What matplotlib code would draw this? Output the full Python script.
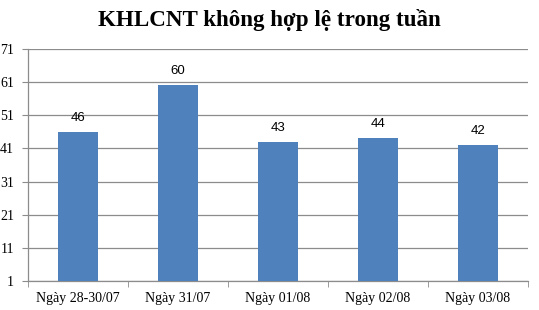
import matplotlib
matplotlib.use("Agg")
import matplotlib.pyplot as plt
import numpy as np

categories = ["Ngày 28-30/07", "Ngày 31/07", "Ngày 01/08", "Ngày 02/08", "Ngày 03/08"]
values = [46, 60, 43, 44, 42]
yticks = [1, 11, 21, 31, 41, 51, 61, 71]
title = "KHLCNT không hợp lệ trong tuần"

fig = plt.figure(figsize=(5.39, 3.10), dpi=100)
ax = fig.add_axes([28/539, 1-281/310, 500/539, (281-49)/310])

x = np.arange(len(categories))
ax.bar(x, values, width=0.4, color="#4F81BD", zorder=3, bottom=0)
ax.set_ylim(1, 71)
ax.set_xlim(-0.5, len(categories)-0.5)
ax.set_yticks(yticks)
ax.set_yticklabels([str(t) for t in yticks], family="Liberation Serif", fontsize=10)
ax.yaxis.grid(True, color="#8C8C8C", linewidth=0.9, zorder=0)
ax.set_axisbelow(True)

ax.set_xticks(x)
ax.set_xticklabels(categories, family="Liberation Serif", fontsize=10)
ax.tick_params(axis="x", length=0, pad=8)
ax.set_xticks(np.arange(-0.5, len(categories), 1.0), minor=True)
ax.tick_params(axis="x", which="minor", length=4, color="#8C8C8C", direction="out")
ax.tick_params(axis="y", length=4, color="#8C8C8C", direction="out", pad=6)

for s in ["top", "right"]:
    ax.spines[s].set_visible(False)
for s in ["left", "bottom"]:
    ax.spines[s].set_color("#8C8C8C")
    ax.spines[s].set_linewidth(0.9)

for xi, v in zip(x, values):
    ax.text(xi, v + 2.5, str(v), ha="center", va="bottom", fontsize=9.5,
            family="Liberation Sans")

fig.text(0.5, 1-20/310, title, ha="center", va="center", fontsize=16.6,
         fontweight="bold", family="Liberation Serif")

fig.savefig("out.png", dpi=100)
